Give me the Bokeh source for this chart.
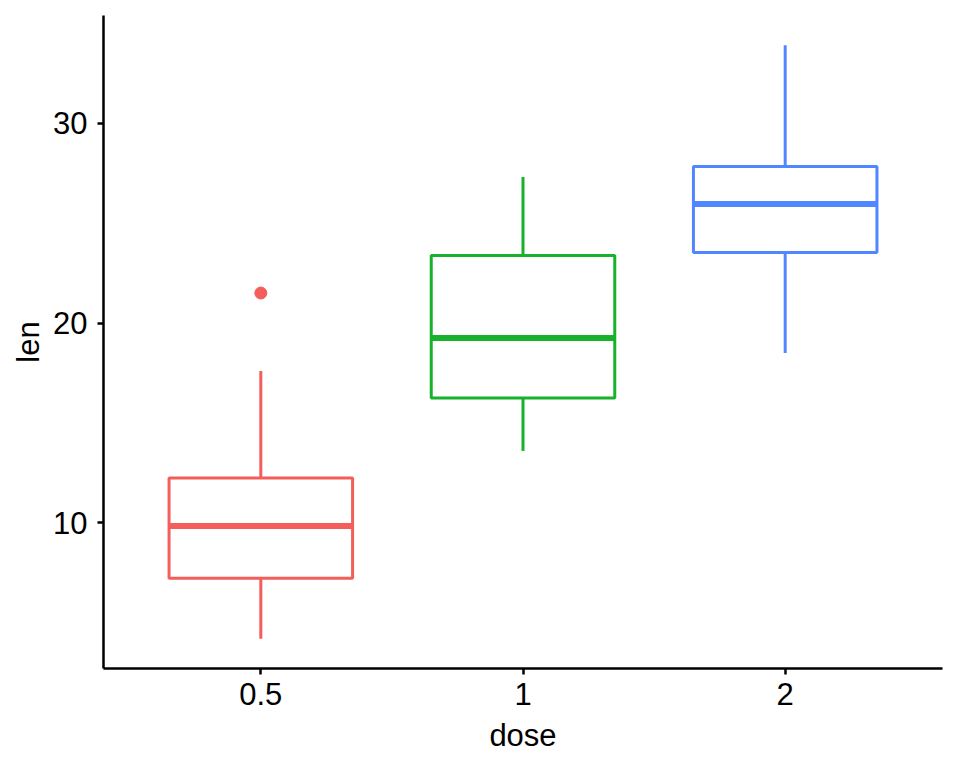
from bokeh.plotting import figure
from bokeh.models import FixedTicker, Range1d, ColumnDataSource
from bokeh.embed import file_html
from bokeh.resources import INLINE

categories = ["0.5", "1", "2"]
colors = ["#F35E5A", "#17B12B", "#5086FF"]
lower_whisker = [4.2, 13.6, 18.5]
q1 = [7.225, 16.25, 23.525]
median = [9.85, 19.25, 25.95]
q3 = [12.25, 23.375, 27.825]
upper_whisker = [17.6, 27.3, 33.9]
outlier_cat = ["0.5"]
outlier_val = [21.5]

xpos = [i + 1 for i in range(len(categories))]
box_w = 0.7

p = figure(width=960, height=768, output_backend="svg", toolbar_location=None,
           x_range=Range1d(0.4, 3.6), y_range=Range1d(2.715, 35.385),
           min_border_left=103, min_border_right=18, min_border_top=15, min_border_bottom=100)
p.outline_line_color = None
p.grid.visible = False
p.background_fill_color = "white"
p.border_fill_color = "white"

src = ColumnDataSource(dict(x=xpos, lw=lower_whisker, q1=q1, q3=q3, uw=upper_whisker, c=colors))
p.segment(x0="x", y0="q3", x1="x", y1="uw", line_color="c", line_width=3, source=src)
p.segment(x0="x", y0="lw", x1="x", y1="q1", line_color="c", line_width=3, source=src)
p.vbar(x="x", width=box_w, bottom="q1", top="q3", fill_color="white", line_color="c", line_width=3, source=src)

mx0 = [x - box_w / 2 for x in xpos]
mx1 = [x + box_w / 2 for x in xpos]
p.segment(x0=mx0, y0=median, x1=mx1, y1=median, line_color=colors, line_width=6)

ox = [xpos[categories.index(c)] for c in outlier_cat]
oc = [colors[categories.index(c)] for c in outlier_cat]
p.scatter(ox, outlier_val, size=12, fill_color=oc, line_color=oc)

p.xaxis.ticker = FixedTicker(ticks=xpos)
p.xaxis.major_label_overrides = {x: c for x, c in zip(xpos, categories)}
p.yaxis.ticker = FixedTicker(ticks=[10, 20, 30])
p.xaxis.axis_label = "dose"
p.yaxis.axis_label = "len"
for ax in (p.xaxis, p.yaxis):
    ax.axis_line_width = 2.5
    ax.axis_line_color = "black"
    ax.major_tick_line_width = 2.5
    ax.major_tick_line_color = "black"
    ax.major_tick_out = 6
    ax.major_tick_in = 0
    ax.minor_tick_line_color = None
    ax.major_label_text_font = "Liberation Sans"
    ax.major_label_text_font_size = "31px"
    ax.major_label_text_color = "black"
    ax.axis_label_text_font = "Liberation Sans"
    ax.axis_label_text_font_size = "31px"
    ax.axis_label_text_font_style = "normal"
    ax.axis_label_text_color = "black"
p.yaxis.major_label_orientation = "horizontal"
p.xaxis.major_label_standoff = 8
p.yaxis.major_label_standoff = 10
p.xaxis.axis_label_standoff = 10
p.yaxis.axis_label_standoff = 4

open("out.html", "w").write(file_html(p, INLINE))
